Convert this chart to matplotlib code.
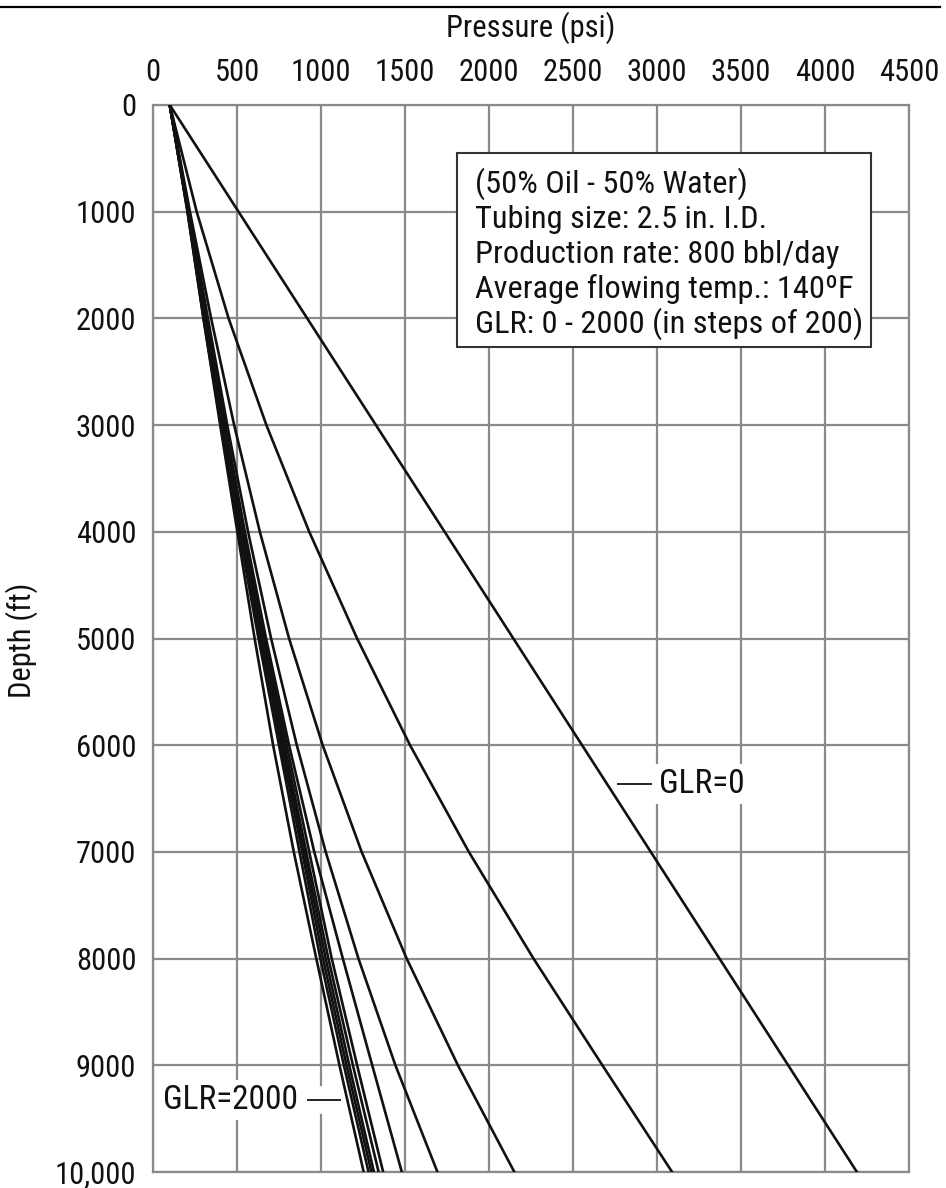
import matplotlib
matplotlib.use("Agg")
import matplotlib.pyplot as plt
from matplotlib import font_manager
from matplotlib.lines import Line2D
from matplotlib.patches import Rectangle
import matplotlib.patheffects as pe

# ---- data ----
depth_ft = [0, 1000, 2000, 3000, 4000, 5000, 6000, 7000, 8000, 9000, 10000]
glr_0    = [100, 509, 918, 1327, 1736, 2145, 2554, 2963, 3372, 3781, 4190]
glr_200  = [100, 260, 450, 675, 930, 1215, 1530, 1880, 2265, 2675, 3090]
glr_400  = [100, 220, 346, 483, 636, 810, 1010, 1242, 1510, 1815, 2151]
glr_600  = [100, 215, 327, 442, 566, 703, 856, 1028, 1223, 1443, 1693]
glr_800  = [100, 214, 320, 430, 547, 673, 810, 960, 1130, 1305, 1481]
glr_1000 = [100, 212, 315, 425, 543, 665, 796, 930, 1064, 1215, 1370]
glr_1200 = [100, 210, 310, 418, 533, 655, 783, 912, 1044, 1190, 1343]
glr_1400 = [100, 208, 306, 412, 528, 648, 772, 900, 1028, 1168, 1315]
glr_1600 = [100, 207, 303, 408, 520, 640, 762, 888, 1012, 1152, 1300]
glr_1800 = [100, 206, 301, 404, 512, 628, 750, 872, 996, 1136, 1283]
glr_2000 = [100, 205, 300, 400, 502, 605, 715, 838, 972, 1110, 1254]
curves = [glr_0, glr_200, glr_400, glr_600, glr_800, glr_1000,
          glr_1200, glr_1400, glr_1600, glr_1800, glr_2000]

x_ticks = [0, 500, 1000, 1500, 2000, 2500, 3000, 3500, 4000, 4500]
x_tick_labels = ["0", "500", "1000", "1500", "2000", "2500", "3000", "3500", "4000", "4500"]
y_ticks = [0, 1000, 2000, 3000, 4000, 5000, 6000, 7000, 8000, 9000, 10000]
y_tick_labels = ["0", "1000", "2000", "3000", "4000", "5000", "6000", "7000", "8000", "9000", "10,000"]

info_lines = ["(50% Oil - 50% Water)",
              "Tubing size: 2.5 in. I.D.",
              "Production rate: 800 bbl/day",
              "Average flowing temp.: 140ºF",
              "GLR: 0 - 2000 (in steps of 200)"]

# ---- font ----
names = {f.name for f in font_manager.fontManager.ttflist}
for cand in ["Liberation Sans Narrow", "Roboto Condensed", "Open Sans Condensed", "Liberation Sans"]:
    if cand in names:
        FAM = cand
        break
else:
    FAM = "DejaVu Sans"
plt.rcParams["font.family"] = [FAM, "DejaVu Sans"]
FS = 22
FS_BOX = 23.3
FS_LBL = 24

W, H = 946, 1188
def fx(x):
    return x / W
def fy(y):
    return 1 - y / H

fig = plt.figure(figsize=(W / 100, H / 100), dpi=100)
fig.patch.set_facecolor("white")

# top rule
fig.add_artist(Line2D([fx(0), fx(940)], [fy(7), fy(7)], color="black", lw=1.6))

L, R, T, B = 153, 909, 105, 1172
ax = fig.add_axes([fx(L), fy(B), (R - L) / W, (B - T) / H])
ax.set_xlim(0, 4500)
ax.set_ylim(10000, 0)

GRID = "#8a8a8a"
ax.set_axisbelow(True)
ax.grid(True, color=GRID, lw=1.6)
for s in ax.spines.values():
    s.set_color(GRID)
    s.set_linewidth(1.6)

ax.xaxis.tick_top()
ax.set_xticks(x_ticks)
ax.set_xticklabels(x_tick_labels)
ax.set_yticks(y_ticks)
ax.set_yticklabels(y_tick_labels)
ax.tick_params(axis="x", length=0, pad=13, labelsize=FS, labelcolor="#111")
ax.tick_params(axis="y", length=0, pad=12, labelsize=FS, labelcolor="#111")

for c in curves:
    ax.plot(c, depth_ft, color="#111111", lw=1.9, zorder=3, solid_joinstyle="round")

# axis titles
fig.text(fx(531), fy(28), "Pressure (psi)", ha="center", va="center", fontsize=FS, color="#111")
fig.text(fx(22), fy(640), "Depth (ft)", ha="center", va="center", rotation=90, fontsize=FS, color="#111")

# info box
ax.add_patch(Rectangle((fx(457), fy(347)), (871 - 457) / W, (347 - 153) / H,
                       transform=fig.transFigure, fc="white", ec="#333333", lw=1.5,
                       zorder=2, clip_on=False))
baselines = [193, 228, 263, 298, 333]
for txt, yb in zip(info_lines, baselines):
    ax.text(fx(475), fy(yb), txt, ha="left", va="baseline", fontsize=FS_BOX, color="#111",
            transform=fig.transFigure, zorder=4, clip_on=False)

white = [pe.Stroke(linewidth=20, foreground="white", capstyle="butt"), pe.Normal()]

# GLR=0 label
ax.add_line(Line2D([fx(617), fx(652)], [fy(783.5), fy(783.5)], color="#111", lw=1.3,
                   transform=fig.transFigure, path_effects=white, zorder=2,
                   clip_on=False, solid_capstyle="butt"))
ax.text(fx(659), fy(784), "GLR=0", ha="left", va="center", fontsize=FS_LBL, color="#111",
        transform=fig.transFigure, bbox=dict(fc="white", ec="none", pad=3), zorder=2.5)

# GLR=2000 label
ax.add_line(Line2D([fx(307), fx(341)], [fy(1100), fy(1100)], color="#111", lw=1.3,
                   transform=fig.transFigure, path_effects=white, zorder=2,
                   clip_on=False, solid_capstyle="butt"))
ax.text(fx(298), fy(1100), "GLR=2000", ha="right", va="center", fontsize=FS_LBL, color="#111",
        transform=fig.transFigure, bbox=dict(fc="white", ec="none", pad=3), zorder=2.5)

fig.savefig("out.png", dpi=100, facecolor="white")
